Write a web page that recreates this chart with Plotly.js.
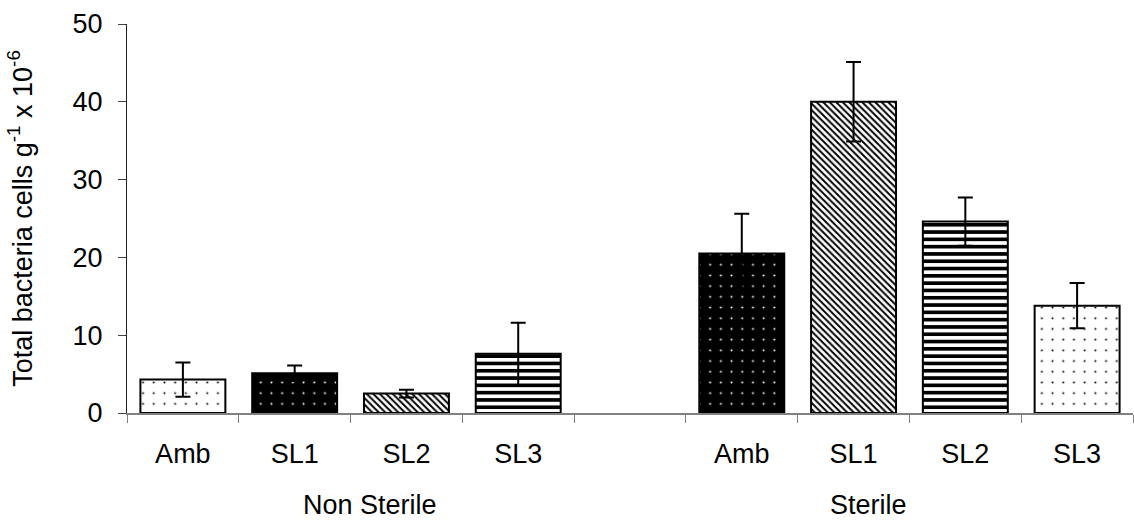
<!DOCTYPE html>
<html>
<head>
<meta charset="utf-8">
<script src="https://cdn.plot.ly/plotly-3.0.1.min.js"></script>
<style>html,body{margin:0;padding:0;background:#fff;}#chart{width:1134px;height:525px;}</style>
</head>
<body>
<div id="chart"></div>
<script>
// ---- data ----
var groups = ["Non Sterile", "Sterile"];
var treatments = ["Amb", "SL1", "SL2", "SL3"];
var nonSterileMean = [4.3, 5.1, 2.5, 7.6];
var nonSterileErr  = [2.2, 1.0, 0.5, 4.0];
var sterileMean    = [20.5, 40.0, 24.6, 13.8];
var sterileErr     = [5.1, 5.1, 3.1, 2.9];
var yTicks = [0, 10, 20, 30, 40, 50];

// fill style used by each bar (index into the styles table below)
var nonSterileFill = [0, 1, 2, 3];
var sterileFill    = [1, 2, 3, 0];

var FONT = "Liberation Sans, Arial, sans-serif";
var styles = [
  {shape: ".",  bg: "white", fg: "black", size: 10.7, solidity: 0.03},
  {shape: ".",  bg: "black", fg: "white", size: 10.7, solidity: 0.03},
  {shape: "\\", bg: "white", fg: "black", size: 4.6,  solidity: 0.42},
  {shape: "-",  bg: "white", fg: "black", size: 7.3,  solidity: 0.5}
];

// ---- slot positions (one empty slot between groups) ----
var slotsPerGroup = treatments.length + 1;
var groupData = [[nonSterileMean, nonSterileErr, nonSterileFill], [sterileMean, sterileErr, sterileFill]];
var perStyle = styles.map(function () { return {x: [], y: [], e: []}; });
var tickPos = [], tickTxt = [];
groups.forEach(function (g, gi) {
  treatments.forEach(function (t, ti) {
    var p = gi * slotsPerGroup + ti;
    var s = groupData[gi][2][ti];
    perStyle[s].x.push(p);
    perStyle[s].y.push(groupData[gi][0][ti]);
    perStyle[s].e.push(groupData[gi][1][ti]);
    tickPos.push(p);
    tickTxt.push(t);
  });
});
var nSlots = groups.length * slotsPerGroup - 1;
var boundaries = [];
for (var i = 0; i <= nSlots; i++) boundaries.push(i - 0.5);

var traces = styles.map(function (st, si) {
  return {
    type: "bar",
    x: perStyle[si].x,
    y: perStyle[si].y,
    width: 0.76,
    xaxis: "x", yaxis: "y",
    marker: {
      color: st.bg,
      line: {color: "black", width: 2},
      pattern: {shape: st.shape, bgcolor: st.bg, fgcolor: st.fg, size: st.size, solidity: st.solidity, fillmode: "replace"}
    },
    error_y: {type: "data", array: perStyle[si].e, visible: true, color: "black", thickness: 2, width: 7.5},
    hoverinfo: "skip", showlegend: false
  };
});

// invisible trace that activates the label axis
traces.push({
  type: "scatter", x: tickPos, y: tickPos.map(function () { return 0; }), xaxis: "x2", yaxis: "y",
  mode: "markers", marker: {opacity: 0, size: 1}, hoverinfo: "skip", showlegend: false
});

var layout = {
  width: 1134, height: 525,
  margin: {l: 127, r: 1, t: 24, b: 112},
  paper_bgcolor: "white", plot_bgcolor: "white",
  font: {family: FONT, size: 27, color: "black"},
  barmode: "overlay",
  xaxis: {
    range: [-0.5, nSlots - 0.5],
    tickmode: "array", tickvals: boundaries, showticklabels: false,
    ticks: "outside", ticklen: 8, tickcolor: "#808080", tickwidth: 1,
    showline: true, linecolor: "#808080", linewidth: 2,
    showgrid: false, zeroline: false, fixedrange: true
  },
  xaxis2: {
    overlaying: "x", anchor: "y", side: "bottom",
    range: [-0.5, nSlots - 0.5],
    tickmode: "array", tickvals: tickPos, ticktext: tickTxt,
    ticks: "", showline: false, showgrid: false, zeroline: false,
    ticklabelstandoff: 22,
    tickfont: {family: FONT, size: 27, color: "black"}
  },
  yaxis: {
    range: [0, 50],
    tickmode: "array", tickvals: yTicks,
    ticks: "outside", ticklen: 8, tickcolor: "#404040", tickwidth: 1,
    showline: true, linecolor: "#202020", linewidth: 1,
    showgrid: false, zeroline: false,
    ticklabelstandoff: 10,
    tickfont: {family: FONT, size: 27, color: "black"},
    title: {text: "Total bacteria cells g<sup>-1</sup> x 10<sup>-6</sup>", font: {family: FONT, size: 27, color: "black"}, standoff: 32}
  },
  annotations: groups.map(function (g, gi) {
    var offsets = [1.67, 6.13];
    return {text: g, xref: "x", yref: "paper", x: offsets[gi], y: 0, yshift: -92,
            showarrow: false, xanchor: "center", yanchor: "middle",
            font: {family: FONT, size: 27, color: "black"}};
  })
};

Plotly.newPlot("chart", traces, layout, {staticPlot: true, displayModeBar: false});
</script>
</body>
</html>
